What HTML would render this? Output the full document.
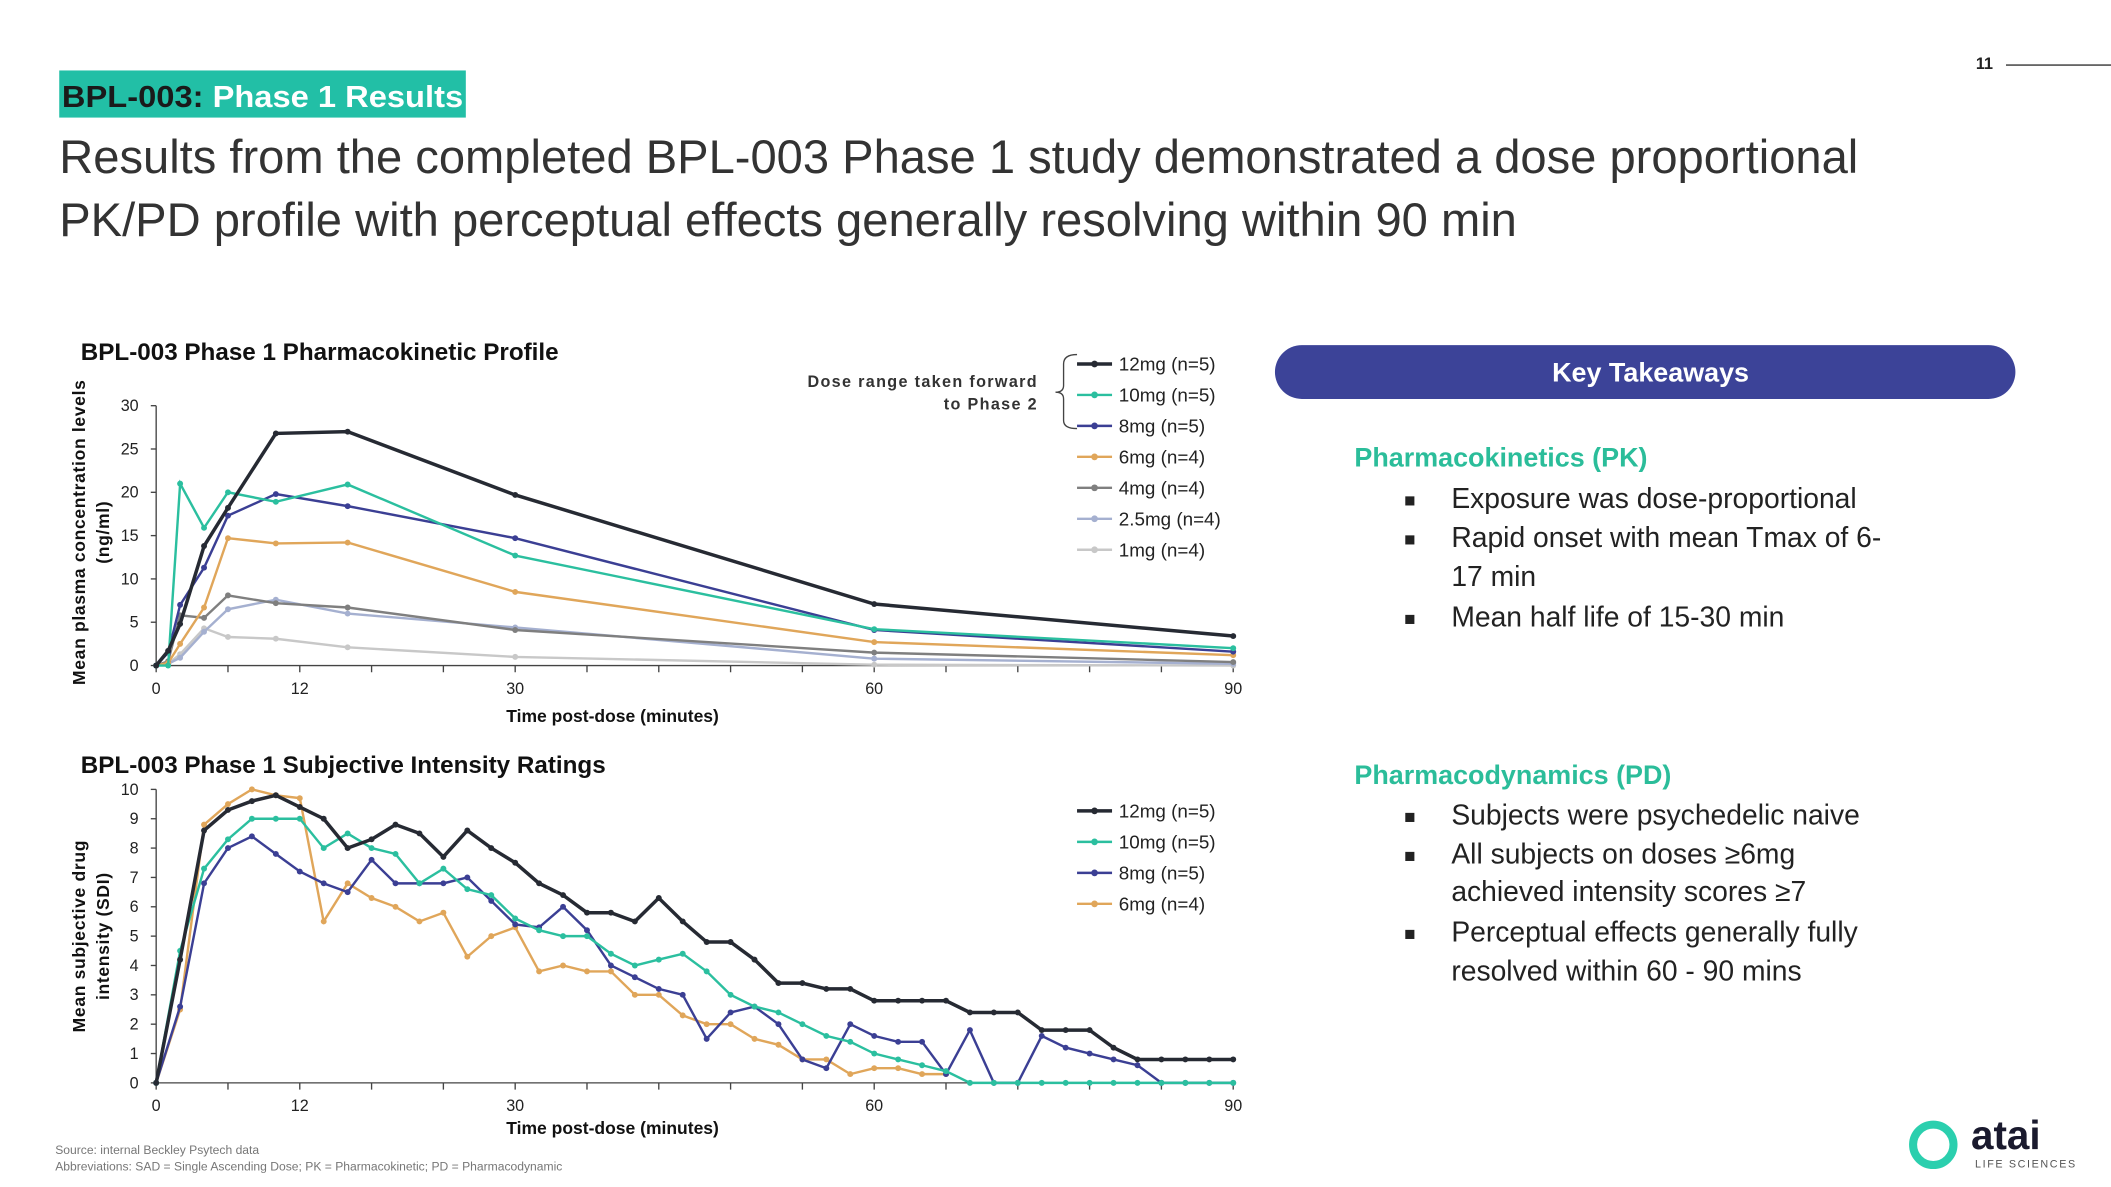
<!DOCTYPE html>
<html><head><meta charset="utf-8">
<style>
html,body{margin:0;padding:0;background:#fff;}
svg{display:block;font-family:"Liberation Sans",sans-serif;}
</style></head>
<body>
<svg id="s" width="2111" height="1187" viewBox="0 0 1568 881" xmlns="http://www.w3.org/2000/svg">
<rect x="0" y="0" width="1568" height="881" fill="#fff"/>
<text x="1474" y="51" font-size="12" font-weight="bold" fill="#222" text-anchor="middle">11</text>
<line x1="1490" y1="48" x2="1568" y2="48" stroke="#333" stroke-width="1"/>
<rect x="44" y="52" width="302" height="35" fill="#22bfa6"/>
<text x="46" y="79" font-size="23" font-weight="bold" textLength="298" lengthAdjust="spacingAndGlyphs"><tspan fill="#1a1a1a">BPL-003:</tspan><tspan fill="#fff"> Phase 1 Results</tspan></text>
<text font-size="35" fill="#333"><tspan x="44" y="128">Results from the completed BPL-003 Phase 1 study demonstrated a dose proportional</tspan><tspan x="44" y="175">PK/PD profile with perceptual effects generally resolving within 90 min</tspan></text>

<text x="60" y="267" font-size="18" font-weight="bold" fill="#111">BPL-003 Phase 1 Pharmacokinetic Profile</text>
<text x="60" y="574" font-size="18" font-weight="bold" fill="#111">BPL-003 Phase 1 Subjective Intensity Ratings</text>
<g id="pk"></g>
<g id="pd"></g>

<text x="771" y="287" font-size="12" font-weight="bold" fill="#333" text-anchor="end" letter-spacing="1">Dose range taken forward</text>
<text x="771" y="304" font-size="12" font-weight="bold" fill="#333" text-anchor="end" letter-spacing="1">to Phase 2</text>
<path d="M800 263 Q790 263 790 270 L790 286 Q790 291 784 291 Q790 291 790 296 L790 312 Q790 318 800 318" fill="none" stroke="#444" stroke-width="1"/>

<rect x="947" y="256" width="550" height="40" rx="20" fill="#3c4398"/>
<text x="1226" y="283" font-size="20" font-weight="bold" fill="#fff" text-anchor="middle">Key Takeaways</text>
<text x="1006" y="346" font-size="20" font-weight="bold" fill="#2bbd9a">Pharmacokinetics (PK)</text>
<g font-size="21" fill="#222">
<text x="1043" y="376" font-size="14">■</text><text x="1078" y="377">Exposure was dose-proportional</text>
<text x="1043" y="405" font-size="14">■</text><text x="1078" y="406">Rapid onset with mean Tmax of 6-</text>
<text x="1078" y="435">17 min</text>
<text x="1043" y="464" font-size="14">■</text><text x="1078" y="465">Mean half life of 15-30 min</text>
</g>
<text x="1006" y="582" font-size="20" font-weight="bold" fill="#2bbd9a">Pharmacodynamics (PD)</text>
<g font-size="21" fill="#222">
<text x="1043" y="611" font-size="14">■</text><text x="1078" y="612">Subjects were psychedelic naive</text>
<text x="1043" y="640" font-size="14">■</text><text x="1078" y="641">All subjects on doses ≥6mg</text>
<text x="1078" y="669">achieved intensity scores ≥7</text>
<text x="1043" y="698" font-size="14">■</text><text x="1078" y="699">Perceptual effects generally fully</text>
<text x="1078" y="728">resolved within 60 - 90 mins</text>
</g>
<text x="41" y="857" font-size="9" fill="#777">Source: internal Beckley Psytech data</text>
<text x="41" y="869" font-size="9" fill="#777">Abbreviations: SAD = Single Ascending Dose; PK = Pharmacokinetic; PD = Pharmacodynamic</text>
<g>
<circle cx="1436" cy="850" r="15" fill="none" stroke="#2bcfae" stroke-width="6"/>
<text x="1464" y="853" font-size="30" font-weight="bold" fill="#1a1a2e">atai</text>
<text x="1467" y="867" font-size="8" fill="#555" letter-spacing="1.2">LIFE SCIENCES</text>
</g>
</svg>
<script>
const pkTimes=[0,1,2,4,6,10,16,30,60,90];
const pkSeriesNames=["12mg (n=5)","10mg (n=5)","8mg (n=5)","6mg (n=4)","4mg (n=4)","2.5mg (n=4)","1mg (n=4)"];
const pk12=[0,1.7,4.8,13.8,18.2,26.8,27,19.7,7.1,3.4];
const pk10=[0,0,21,15.9,20,18.9,20.9,12.7,4.2,2.0];
const pk8=[0,1.5,7,11.3,17.3,19.8,18.4,14.7,4.1,1.6];
const pk6=[0,0.3,2.5,6.7,14.7,14.1,14.2,8.5,2.7,1.2];
const pk4=[0,0.5,5.8,5.5,8.1,7.2,6.7,4.1,1.5,0.4];
const pk25=[0,0.2,0.9,3.9,6.5,7.6,6.0,4.4,0.8,0.2];
const pk1=[0,0.2,1.3,4.3,3.3,3.1,2.1,1.0,0.1,0.0];
const pkYTicks=[0,5,10,15,20,25,30];
const xTickLabels=[0,12,30,60,90];
const pdTimes=[0,2,4,6,8,10,12,14,16,18,20,22,24,26,28,30,32,34,36,38,40,42,44,46,48,50,52,54,56,58,60,62,64,66,68,70,72,74,76,78,80,82,84,86,88,90];
const pdSeriesNames=["12mg (n=5)","10mg (n=5)","8mg (n=5)","6mg (n=4)"];
const pd12=[0,4.2,8.6,9.3,9.6,9.8,9.4,9.0,8.0,8.3,8.8,8.5,7.7,8.6,8.0,7.5,6.8,6.4,5.8,5.8,5.5,6.3,5.5,4.8,4.8,4.2,3.4,3.4,3.2,3.2,2.8,2.8,2.8,2.8,2.4,2.4,2.4,1.8,1.8,1.8,1.2,0.8,0.8,0.8,0.8,0.8];
const pd10=[0,4.5,7.3,8.3,9.0,9.0,9.0,8.0,8.5,8.0,7.8,6.8,7.3,6.6,6.4,5.6,5.2,5.0,5.0,4.4,4.0,4.2,4.4,3.8,3.0,2.6,2.4,2.0,1.6,1.4,1.0,0.8,0.6,0.4,0,0,0,0,0,0,0,0,0,0,0,0];
const pd8=[0,2.6,6.8,8.0,8.4,7.8,7.2,6.8,6.5,7.6,6.8,6.8,6.8,7.0,6.2,5.4,5.3,6.0,5.2,4.0,3.6,3.2,3.0,1.5,2.4,2.6,2.0,0.8,0.5,2.0,1.6,1.4,1.4,0.3,1.8,0,0,1.6,1.2,1.0,0.8,0.6,0,0,0,0];
const pd6=[0,2.5,8.8,9.5,10.0,9.8,9.7,5.5,6.8,6.3,6.0,5.5,5.8,4.3,5.0,5.3,3.8,4.0,3.8,3.8,3.0,3.0,2.3,2.0,2.0,1.5,1.3,0.8,0.8,0.3,0.5,0.5,0.3,0.3];
const pdYTicks=[0,1,2,3,4,5,6,7,8,9,10];

const colors=["#262a33","#2bbf9f","#3b3f94","#e0a65a","#7f7f7f","#a5b0d0","#c8c8c8"];
const NS="http://www.w3.org/2000/svg";
function mk(p,t,a){const e=document.createElementNS(NS,t);for(const k in a)e.setAttribute(k,a[k]);p.appendChild(e);return e;}
const X0=116,X1=916;
function xs(t){return X0+(X1-X0)*t/90;}

function drawChart(g,y0,y1,ymax,yticks,times,series,names,legY,xTitleY,yTitles,yTitleCY){
  const ys=v=>y0-(y0-y1)*v/ymax;
  const ax=mk(g,'line',{x1:X0,y1:y1,x2:X0,y2:y0,stroke:'#444','stroke-width':1});
  
  
  const xa=mk(g,'line',{x1:X0,y1:y0,x2:X1,y2:y0,stroke:'#444','stroke-width':1});
  
  
  for(let t=0;t<=90;t+=6){mk(g,'line',{x1:xs(t),y1:y0,x2:xs(t),y2:y0+5,stroke:'#444','stroke-width':1});}
  for(const v of yticks){
    mk(g,'line',{x1:X0-4,y1:ys(v),x2:X0,y2:ys(v),stroke:'#444','stroke-width':1});
    const tl=mk(g,'text',{x:X0-13,y:ys(v)+4,'font-size':12,fill:'#222','text-anchor':'end'});
    tl.textContent=v;
    
    
  }
  for(const v of xTickLabels){
    const tl=mk(g,'text',{x:xs(v),y:y0+21,'font-size':12,fill:'#222','text-anchor':'middle'});
    tl.textContent=v;
    
    
  }
  const xt=mk(g,'text',{x:455,y:xTitleY,'font-size':13,'font-weight':'bold',fill:'#111','text-anchor':'middle'});
  xt.textContent='Time post-dose  (minutes)';
  
  
  yTitles.forEach((s,i)=>{
    const x=63+i*18;
    const yt=mk(g,'text',{x:x,y:yTitleCY,'font-size':13,'font-weight':'bold',fill:'#111','text-anchor':'middle',transform:`rotate(-90 ${x} ${yTitleCY})`,'letter-spacing':'0.5'});
    yt.textContent=s;
    
    
  });
  for(let si=series.length-1;si>=0;si--){
    const vals=series[si];
    const pts=vals.map((v,i)=>xs(times[i]).toFixed(1)+','+ys(v).toFixed(1)).join(' ');
    const pl=mk(g,'polyline',{points:pts,fill:'none',stroke:colors[si],'stroke-width':si==0?2.6:1.8});
    
    
    vals.forEach((v,i)=>{
      const c=mk(g,'circle',{cx:xs(times[i]),cy:ys(v),r:2.2,fill:colors[si]});
      
      
    });
  }
  names.forEach((n,i)=>{
    const y=legY+23*i;
    const lg=mk(g,'g',{});
    
    
    mk(lg,'line',{x1:800,y1:y,x2:826,y2:y,stroke:colors[i],'stroke-width':i==0?2.6:1.8});
    mk(lg,'circle',{cx:813,cy:y,r:2.5,fill:colors[i]});
    const t=mk(lg,'text',{x:831,y:y+5,'font-size':14,fill:'#222'});
    t.textContent=n;
  });
}
drawChart(document.getElementById('pk'),494,301,30,pkYTicks,pkTimes,[pk12,pk10,pk8,pk6,pk4,pk25,pk1],pkSeriesNames,270,536,["Mean plasma concentration  levels","(ng/ml)"],395);
drawChart(document.getElementById('pd'),804,586,10,pdYTicks,pdTimes,[pd12,pd10,pd8,pd6],pdSeriesNames,602,842,["Mean subjective drug","intensity (SDI)"],695);
</script>
</body></html>
